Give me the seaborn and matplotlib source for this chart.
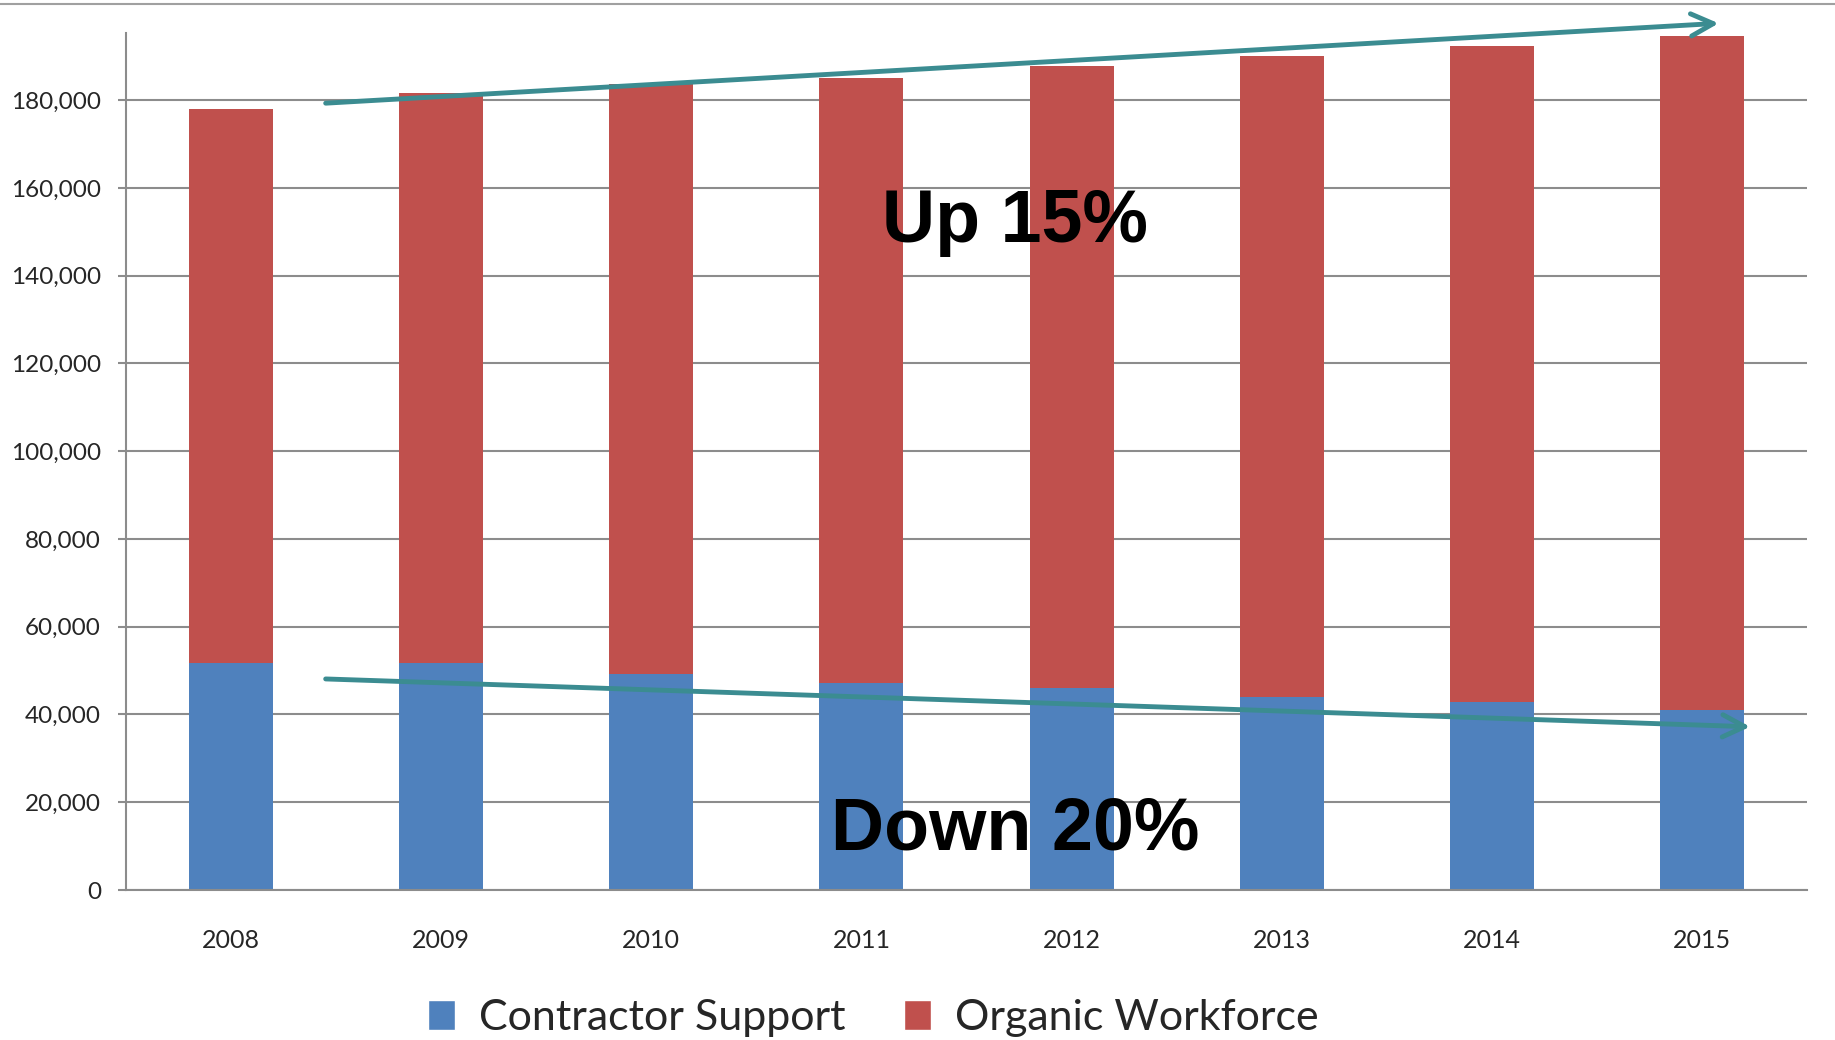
import matplotlib
matplotlib.use("Agg")
import matplotlib.pyplot as plt
from matplotlib.patches import Patch
from matplotlib.lines import Line2D
from matplotlib.ticker import FuncFormatter
import seaborn as sns
import pandas as pd

# Données
years = ["2008", "2009", "2010", "2011", "2012", "2013", "2014", "2015"]
contractor = [51700, 51800, 49300, 47100, 46100, 44000, 42800, 41000]
total = [178000, 181700, 183600, 185000, 187800, 190100, 192300, 194700]
organic = [t - c for t, c in zip(total, contractor)]

# Flèches de tendance (départ, arrivée) en coordonnées de données
up_arrow = [(0.45, 179300), (7.08, 197500)]
down_arrow = [(0.45, 48100), (7.23, 37200)]
labels_text = ["Up 15%", "Down 20%"]
labels_pos = [(3.73, 147700), (3.73, 9300)]

blue = "#4F81BD"
red = "#C0504D"
teal = "#3B8C91"
grid_gray = "#8C8C8C"

df = pd.DataFrame({"year": years, "contractor": contractor, "total": total})

sns.set_style("white")
plt.rcParams["font.family"] = ["Lato", "DejaVu Sans"]

fig = plt.figure(figsize=(18.35, 10.40), dpi=100)
ax = fig.add_axes([0.0687, 0.1442, 0.9160, 0.8241])

# Barres empilées : total (rouge) puis sous-traitants (bleu) par-dessus
sns.barplot(data=df, x="year", y="total", color=red, width=0.4, saturation=1,
            edgecolor="none", ax=ax)
sns.barplot(data=df, x="year", y="contractor", color=blue, width=0.4, saturation=1,
            edgecolor="none", ax=ax)

ax.set_xlim(-0.5, 7.5)
ax.set_ylim(0, 195300)
ax.set_yticks(range(0, 180001, 20000))
ax.yaxis.set_major_formatter(FuncFormatter(lambda v, p: f"{int(v):,}"))
ax.yaxis.grid(True, color=grid_gray, lw=1.5)
ax.set_axisbelow(True)
ax.set_xlabel("")
ax.set_ylabel("")

# Graduations de l'axe X aux limites des catégories
ax.set_xticks([i - 0.5 for i in range(9)], minor=True)
ax.tick_params(axis="x", which="major", length=0, pad=28, labelsize=18)
ax.tick_params(axis="x", which="minor", length=7, width=1.5, color=grid_gray, direction="out")
ax.tick_params(axis="y", length=6, width=1.5, color=grid_gray, pad=12, labelsize=17.5, left=True)

for side in ["top", "right"]:
    ax.spines[side].set_visible(False)
for side in ["left", "bottom"]:
    ax.spines[side].set_color(grid_gray)
    ax.spines[side].set_linewidth(1.5)

# Flèches et textes
for (start, end) in [up_arrow, down_arrow]:
    ax.annotate("", xy=end, xytext=start, annotation_clip=False,
                arrowprops=dict(arrowstyle="->, head_length=0.8, head_width=0.4",
                                color=teal, lw=3.5, mutation_scale=20,
                                shrinkA=0, shrinkB=0))
for txt, (x, y) in zip(labels_text, labels_pos):
    ax.text(x, y, txt, ha="center", va="baseline", fontsize=53, fontweight="bold",
            family=["Liberation Sans", "DejaVu Sans"], color="black")

# Légende
handles = [Patch(facecolor=blue, label="Contractor Support"),
           Patch(facecolor=red, label="Organic Workforce")]
fig.legend(handles=handles, loc="center", bbox_to_anchor=(0.476, 0.021), ncol=2,
           frameon=False, fontsize=31, handlelength=0.63, handleheight=0.67,
           handletextpad=0.56, columnspacing=1.35)

# Ligne grise en haut de la figure
fig.add_artist(Line2D([0, 1], [0.996, 0.996], transform=fig.transFigure,
                      color="#A0A0A0", lw=1.5))

fig.savefig("out.png", dpi=100)
